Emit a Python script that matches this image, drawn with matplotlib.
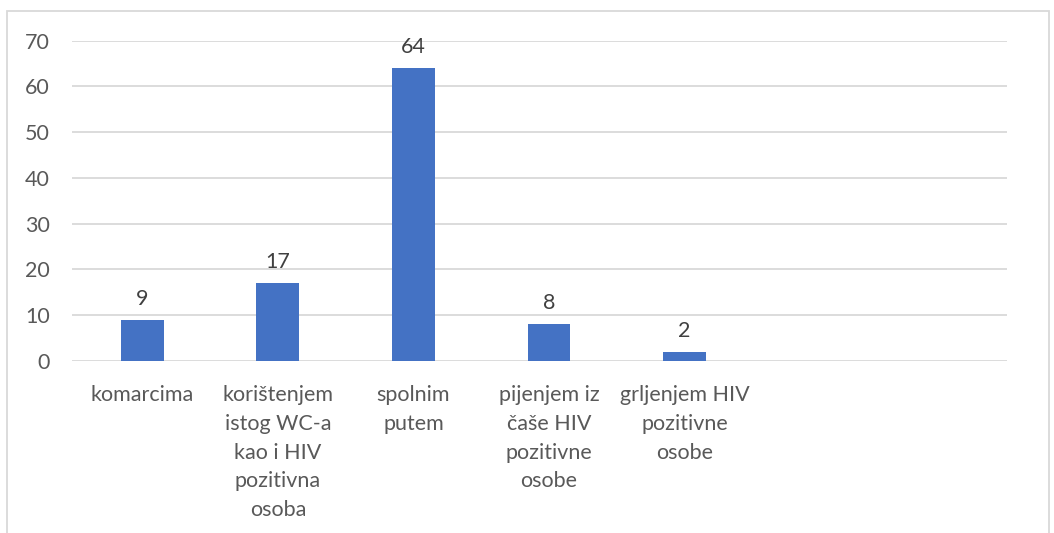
import matplotlib
matplotlib.use("Agg")
import matplotlib.pyplot as plt
from matplotlib.patches import Rectangle

# podaci
kategorije = ["komarcima",
              "korištenjem\nistog WC-a\nkao i HIV\npozitivna\nosoba",
              "spolnim\nputem",
              "pijenjem iz\nčaše HIV\npozitivne\nosobe",
              "grljenjem HIV\npozitivne\nosobe",
              "", ""]
vrijednosti = [9, 17, 64, 8, 2, None, None]
y_ticks = [0, 10, 20, 30, 40, 50, 60, 70]

plt.rcParams['font.family'] = ['Lato', 'DejaVu Sans']
tekst = '#595959'

fig = plt.figure(figsize=(10.54, 5.33), dpi=100)
ax = fig.add_axes([72/1054, 1-361/533, (1007-72)/1054, (361-40.7)/533])

x = list(range(len(kategorije)))
for i, v in enumerate(vrijednosti):
    if v is None:
        continue
    ax.bar(i, v, width=0.317, color='#4472C4', zorder=3)
    ax.annotate(str(v), (i, v), xytext=(0, 11), textcoords='offset pixels',
                ha='center', va='bottom', fontsize=15.5, color='#404040')

ax.set_xlim(-0.52, 6.38)
ax.set_ylim(0, 70)
ax.set_yticks(y_ticks)
ax.set_xticks(x)
ax.set_xticklabels(kategorije, fontsize=15.5, color=tekst, linespacing=1.56, va='top')
ax.tick_params(axis='y', length=0, pad=16, labelsize=15.5, labelcolor=tekst)
ax.tick_params(axis='x', length=0, pad=17)
ax.grid(axis='y', color='#D9D9D9', linewidth=1.3, zorder=0)
for s in ax.spines.values():
    s.set_visible(False)

# okvir grafikona
fig.patches.append(Rectangle((7/1054, -0.1), (1049-7)/1054, 1.1 - 11/533,
                             transform=fig.transFigure, fill=False,
                             edgecolor='#D9D9D9', linewidth=1.3))

fig.savefig("out.png", dpi=100)
